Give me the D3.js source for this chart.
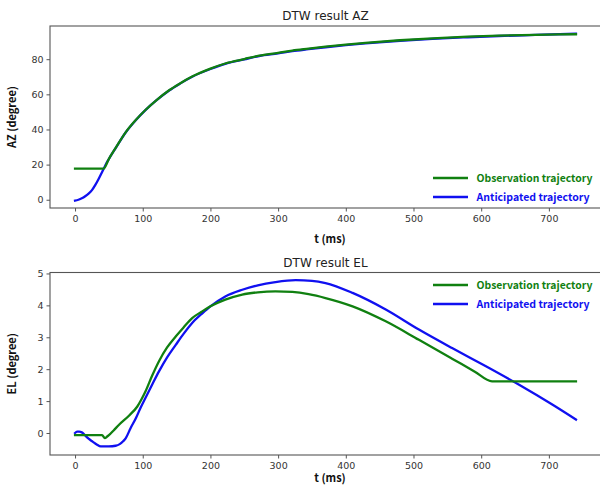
<!DOCTYPE html>
<html><head><meta charset="utf-8">
<script src="https://cdn.jsdelivr.net/npm/d3@7"></script>
<style>body{margin:0;background:#fff}svg{display:block}</style>
</head><body>
<svg id="c" width="600" height="495"></svg>
<script>
// ---- data ----
const xTicks = [0,100,200,300,400,500,600,700];
const azTicks = [0,20,40,60,80];
const elTicks = [0,1,2,3,4,5];
const seriesNames = ["Observation trajectory","Anticipated trajectory"];
const seriesColors = ["#108010","#1010f0"];

const azObsT = [0,42,50,60,75,90,104,120,139,155,173,200,223,250,272,300,321,345,370,400,429,480,528,580,626,680,740];
const azObsV = [17.7,17.7,23.3,29.5,38.5,45.5,51.1,56.6,62.3,66.2,70.1,74.6,77.7,80.1,82.0,83.6,84.9,86.0,87.1,88.3,89.3,90.8,91.9,92.8,93.4,93.9,94.2];
const azAntT = [0,5,10,15,20,25,30,35,40,45,50,60,75,90,104,120,139,155,173,200,223,250,272,300,321,345,370,400,429,480,528,580,626,680,740];
const azAntV = [-0.5,0,0.8,2,3.5,5.5,8.5,12,15.8,19.8,23.2,29.4,38.4,45.4,51.0,56.5,62.2,66.1,70.0,74.4,77.5,79.9,81.8,83.3,84.6,85.7,86.8,88.0,89.0,90.5,91.6,92.5,93.2,93.8,94.5];

const elObsT = [0,40,44,47,50,57,65,80,92,98,104,114,124,136,149,160,173,187,200,222,247,270,296,321,345,370,410,459,508,557,590,616,740];
const elObsV = [-0.07,-0.07,-0.16,-0.12,-0.07,0.08,0.26,0.55,0.83,1.05,1.3,1.8,2.25,2.68,3.03,3.3,3.6,3.8,3.97,4.18,4.34,4.41,4.44,4.42,4.35,4.23,3.97,3.50,2.92,2.33,1.93,1.62,1.62];
const elAntT = [0,3,6,10,15,20,26,32,38,50,60,66,71,75,82,90,97,104,114,124,136,149,160,173,187,200,222,247,270,296,326,350,370,410,459,508,557,607,656,705,740];
const elAntV = [0,0.04,0.04,0.02,-0.08,-0.18,-0.27,-0.36,-0.42,-0.42,-0.4,-0.35,-0.26,-0.16,0.15,0.47,0.8,1.1,1.52,1.93,2.37,2.77,3.1,3.45,3.73,3.97,4.28,4.49,4.63,4.73,4.79,4.77,4.70,4.39,3.87,3.24,2.66,2.09,1.51,0.89,0.42];

const panels = [
  {title:"DTW result AZ", ylabel:"AZ (degree)", yDomain:[-4.7,98.9], yTicks:azTicks,
   top:26, bottom:208, series:[[azObsT,azObsV],[azAntT,azAntV]], legendY:178, xlabOff:35},
  {title:"DTW result EL", ylabel:"EL (degree)", yDomain:[-0.69,5.03], yTicks:elTicks,
   top:272.5, bottom:455, series:[[elObsT,elObsV],[elAntT,elAntV]], legendY:285, xlabOff:27}
];

const svg = d3.select("#c");
const L = 50, R = 601;
const x = d3.scaleLinear().domain([-37,777]).range([L,R]);
const bold = "'Noto Sans CJK KR','Noto Sans',sans-serif";

panels.forEach(p => {
  const y = d3.scaleLinear().domain(p.yDomain).range([p.bottom,p.top]);
  const g = svg.append("g");
  const line = d3.line().x(d=>x(d[0])).y(d=>y(d[1])).curve(d3.curveMonotoneX);
  [1,0].forEach(i => {
    const s = p.series[i];
    const pts = s[0].map((t,k)=>[t,s[1][k]]);
    g.append("path").attr("d",line(pts)).attr("fill","none")
      .attr("stroke",seriesColors[i]).attr("stroke-width",2.3)
      .attr("stroke-linejoin","round").attr("stroke-linecap","square");
  });
  g.append("rect").attr("x",L).attr("y",p.top).attr("width",R-L).attr("height",p.bottom-p.top)
    .attr("fill","none").attr("stroke","#555").attr("stroke-width",1.1);
  const xa = g.append("g").attr("transform",`translate(0,${p.bottom})`)
    .call(d3.axisBottom(x).tickValues(xTicks).tickSize(3.5).tickPadding(4).tickFormat(d3.format("d")));
  const ya = g.append("g").attr("transform",`translate(${L},0)`)
    .call(d3.axisLeft(y).tickValues(p.yTicks).tickSize(3.5).tickPadding(3).tickFormat(d3.format("d")));
  [xa,ya].forEach(a=>{
    a.select(".domain").remove();
    a.selectAll("line").attr("stroke","#555");
    a.selectAll("text").attr("fill","#333").style("font-family","'DejaVu Sans',sans-serif").style("font-size","9.5px");
  });
  g.append("text").attr("x",(L+R)/2).attr("y",p.top-6).attr("text-anchor","middle")
    .style("font-family","'DejaVu Sans',sans-serif").style("font-size","12px").attr("fill","#222").text(p.title);
  g.append("text").attr("x",330).attr("y",p.bottom+p.xlabOff).attr("text-anchor","middle")
    .style("font-family",bold).style("font-weight","bold").style("font-size","11px").attr("fill","#111").text("t (ms)");
  g.append("text").attr("transform",`translate(16,${(p.top+p.bottom)/2}) rotate(-90)`).attr("text-anchor","middle")
    .style("font-family",bold).style("font-weight","bold").style("font-size","11px").attr("fill","#111").text(p.ylabel);
  seriesNames.forEach((n,i)=>{
    const ly = p.legendY + i*19;
    g.append("line").attr("x1",433).attr("x2",468).attr("y1",ly).attr("y2",ly)
      .attr("stroke",seriesColors[i]).attr("stroke-width",2.3);
    const t = g.append("text").attr("x",476.5).attr("y",ly).attr("dy","0.36em")
      .style("font-family",bold).style("font-weight","bold").style("font-size","12px")
      .attr("fill",seriesColors[i]).text(n);
    const target = i===0 ? 116 : 113;
    const w = t.node().getComputedTextLength();
    t.style("font-size", (12*target/w).toFixed(2)+"px");
  });
});
</script>
</body></html>
